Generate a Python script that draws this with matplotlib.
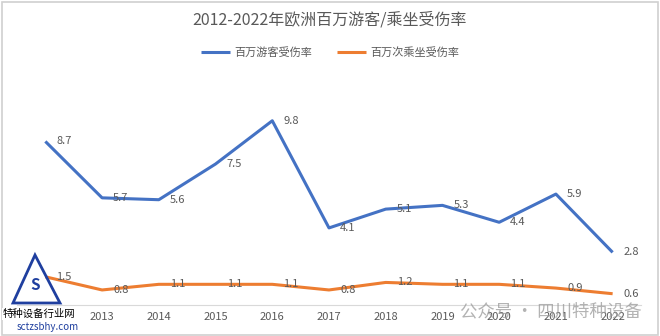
import matplotlib
matplotlib.use("Agg")
import matplotlib.pyplot as plt
from matplotlib.patches import Rectangle, Polygon

plt.rcParams['font.family'] = ['Noto Sans CJK SC', 'DejaVu Sans']

years = ['2012', '2013', '2014', '2015', '2016', '2017', '2018', '2019', '2020', '2021', '2022']
tourist_rate = [8.7, 5.7, 5.6, 7.5, 9.8, 4.1, 5.1, 5.3, 4.4, 5.9, 2.8]
ride_rate = [1.5, 0.8, 1.1, 1.1, 1.1, 0.8, 1.2, 1.1, 1.1, 0.9, 0.6]

blue = '#4472C4'
orange = '#ED7D31'
gray = '#595959'

fig = plt.figure(figsize=(6.6, 3.36), dpi=100)
ax = fig.add_axes([17 / 660, 31 / 336, 624 / 660, 225.6 / 336])

x = list(range(len(years)))
ax.plot(x, tourist_rate, color=blue, lw=2.2, label='百万游客受伤率', solid_capstyle='butt')
ax.plot(x, ride_rate, color=orange, lw=2.2, label='百万次乘坐受伤率', solid_capstyle='butt')

# data labels to the right of each point
for xi, v in zip(x, tourist_rate):
    ax.annotate(f'{v}', (xi, v), xytext=(8, 0), textcoords='offset points',
                ha='left', va='center', fontsize=8, color=gray)
for xi, v in zip(x, ride_rate):
    ax.annotate(f'{v}', (xi, v), xytext=(8, 0), textcoords='offset points',
                ha='left', va='center', fontsize=8, color=gray)

ax.set_xlim(-0.5, len(years) - 0.5)
ax.set_ylim(0, 12)
ax.set_xticks(x)
ax.set_xticklabels(years, fontsize=8, color=gray)
ax.tick_params(axis='x', length=0, pad=5)
ax.set_yticks([])
for s in ['top', 'right', 'left']:
    ax.spines[s].set_visible(False)
ax.spines['bottom'].set_color('#D9D9D9')
ax.spines['bottom'].set_linewidth(0.8)

fig.text(0.5, 1 - 20 / 336, '2012-2022年欧洲百万游客/乘坐受伤率', ha='center', va='center',
         fontsize=11.5, color=gray)
fig.legend(loc='center', bbox_to_anchor=(0.5, 1 - 52 / 336), ncol=2, frameon=False,
           fontsize=8, labelcolor=gray, handlelength=2.6, columnspacing=2.2, handletextpad=0.4)

# watermarks
fig.text(460 / 660, 1 - 311 / 336, '公众号 · 四川特种设备', ha='left', va='center',
         fontsize=12.5, color='#9A9A9A', alpha=0.75)
fig.patches.append(Polygon([(13 / 660, 1 - 303 / 336), (60 / 660, 1 - 303 / 336),
                            (35 / 660, 1 - 255 / 336)], closed=True, transform=fig.transFigure,
                           fill=False, edgecolor='#1F3F9F', lw=2))
fig.text(35 / 660, 1 - 285 / 336, 'S', ha='center', va='center', fontsize=11,
         color='#1F3F9F', fontweight='bold')
fig.text(3 / 660, 1 - 314 / 336, '特种设备行业网', ha='left', va='center', fontsize=7.5,
         color='black', bbox=dict(facecolor='white', edgecolor='none', pad=1))
fig.text(17 / 660, 1 - 327 / 336, 'sctzsbhy.com', ha='left', va='center', fontsize=7,
         color='#1F3F9F')

fig.patches.append(Rectangle((0.003, 0.004), 0.994, 0.99, transform=fig.transFigure,
                             fill=False, edgecolor='#D0D0D0', lw=1.2))

fig.savefig('out.png', dpi=100)
